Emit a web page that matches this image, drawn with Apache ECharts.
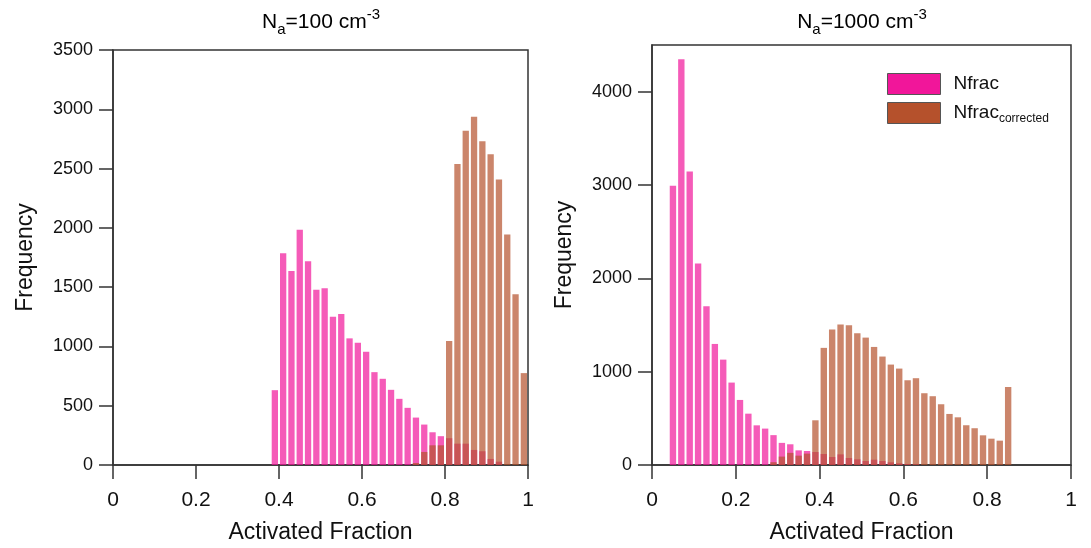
<!DOCTYPE html>
<html>
<head>
<meta charset="utf-8">
<script src="https://cdn.jsdelivr.net/npm/echarts@6/dist/echarts.min.js"></script>
<style>html,body{margin:0;padding:0;background:#fff;}#c{width:1091px;height:548px;}</style>
</head>
<body>
<div id="c"></div>
<script>
// Bin left edges (bin width 0.02)
const binWidth = 0.02;
const binLeft = [0.00,0.02,0.04,0.06,0.08,0.10,0.12,0.14,0.16,0.18,
                 0.20,0.22,0.24,0.26,0.28,0.30,0.32,0.34,0.36,0.38,
                 0.40,0.42,0.44,0.46,0.48,0.50,0.52,0.54,0.56,0.58,
                 0.60,0.62,0.64,0.66,0.68,0.70,0.72,0.74,0.76,0.78,
                 0.80,0.82,0.84,0.86,0.88,0.90,0.92,0.94,0.96,0.98];

// Left panel: Na = 100 cm^-3
const nfrac100 = [0,0,0,0,0,0,0,0,0,0,
                  0,0,0,0,0,0,0,0,0,631,
                  1786,1637,1984,1719,1477,1490,1251,1274,1068,1031,
                  955,783,727,634,558,482,400,341,276,243,
                  226,180,180,127,116,51,28,0,0,0];
const nfracCorr100 = [0,0,0,0,0,0,0,0,0,0,
                      0,0,0,0,0,0,0,0,0,0,
                      0,0,0,0,0,0,0,0,0,0,
                      0,0,0,0,0,0,17,110,166,166,
                      1046,2539,2818,2936,2731,2621,2407,1944,1440,775];

// Right panel: Na = 1000 cm^-3
const nfrac1000 = [0,0,2992,4346,3145,2159,1701,1297,1129,883,
                   697,550,425,390,320,237,222,157,150,139,
                   118,86,114,75,61,43,57,43,29,18,
                   11,7,0,0,0,0,0,0,0,0,
                   0,0,0,0,0,0,0,0,0,0];
const nfracCorr1000 = [0,0,0,0,0,0,0,0,0,0,
                       0,0,0,0,30,90,130,100,122,479,
                       1255,1451,1505,1498,1412,1365,1265,1162,1076,1033,
                       908,930,769,737,651,547,511,426,394,318,
                       282,261,836,0,0,0,0,0,0,0];

const xTicks = [0, 0.2, 0.4, 0.6, 0.8, 1];
const yTicksLeft = [0, 500, 1000, 1500, 2000, 2500, 3000, 3500];
const yTicksRight = [0, 1000, 2000, 3000, 4000];

const PINK = '#F1169A';
const BROWN = '#B5512C';
const FONT = 'Liberation Sans, Arial, Helvetica, sans-serif';
const AX = '#333';

function toPairs(vals) { return binLeft.map((b, i) => [b, vals[i]]); }

function renderBar(params, api) {
  const x0 = api.value(0), y = api.value(1);
  if (!y) return null;
  const p0 = api.coord([x0, y]);
  const p1 = api.coord([x0 + binWidth, 0]);
  return {
    type: 'rect',
    shape: { x: p0[0] + 1, y: p0[1], width: p1[0] - p0[0] - 2, height: p1[1] - p0[1] },
    style: { fill: api.visual('color'), opacity: 0.7 }
  };
}

function xAxisCfg(idx) {
  return {
    type: 'value', gridIndex: idx, min: 0, max: 1, interval: 0.2,
    name: 'Activated Fraction', nameLocation: 'middle', nameGap: 56,
    nameTextStyle: { fontSize: 23, color: '#111', fontFamily: FONT },
    axisLine: { show: true, onZero: false, lineStyle: { color: AX, width: 1.5 } },
    axisTick: { show: true, inside: false, length: 14, lineStyle: { color: AX, width: 1.5 }, customValues: xTicks },
    axisLabel: { fontSize: 21, color: '#111', margin: 25, fontFamily: FONT, customValues: xTicks,
                 formatter: v => (v === 0 ? '0' : v === 1 ? '1' : v.toFixed(1)) },
    splitLine: { show: false }
  };
}

function yAxisCfg(idx, max, interval, ticks) {
  return {
    type: 'value', gridIndex: idx, min: 0, max: max, interval: interval,
    name: 'Frequency', nameLocation: 'middle', nameGap: 76,
    nameTextStyle: { fontSize: 23, color: '#111', fontFamily: FONT },
    axisLine: { show: true, lineStyle: { color: AX, width: 1.5 } },
    axisTick: { show: true, inside: false, length: 14, lineStyle: { color: AX, width: 1.5 }, customValues: ticks },
    axisLabel: { fontSize: 18, color: '#111', margin: 20, fontFamily: FONT, customValues: ticks,
                 formatter: v => String(v) },
    splitLine: { show: false }
  };
}

const titleRich = {
  n: { fontSize: 21, fontFamily: FONT, color: '#111', lineHeight: 30 },
  s: { fontSize: 15, fontFamily: FONT, color: '#111', lineHeight: 14, verticalAlign: 'bottom' },
  p: { fontSize: 15, fontFamily: FONT, color: '#111', lineHeight: 14, verticalAlign: 'top' }
};

const chart = echarts.init(document.getElementById('c'), null, { renderer: 'canvas' });
chart.setOption({
  backgroundColor: '#fff',
  animation: false,
  grid: [
    { left: 113, top: 50, width: 415, height: 415, show: true, borderColor: AX, borderWidth: 1.5, backgroundColor: 'transparent', containLabel: false, outerBoundsMode: 'none' },
    { left: 652, top: 45, width: 419, height: 420, show: true, borderColor: AX, borderWidth: 1.5, backgroundColor: 'transparent', containLabel: false, outerBoundsMode: 'none' }
  ],
  xAxis: [xAxisCfg(0), xAxisCfg(1)],
  yAxis: [yAxisCfg(0, 3500, 500, yTicksLeft), yAxisCfg(1, 4500, 1000, yTicksRight)],
  graphic: [
    { type: 'text', x: 321, y: 22, style: { text: '{n|N}{s|a}{n|=100 cm}{p|-3}', rich: titleRich, align: 'center', verticalAlign: 'middle' } },
    { type: 'text', x: 862, y: 22, style: { text: '{n|N}{s|a}{n|=1000 cm}{p|-3}', rich: titleRich, align: 'center', verticalAlign: 'middle' } }
  ],
  legend: {
    orient: 'vertical', left: 887, top: 73, padding: 0,
    itemWidth: 53, itemHeight: 21, itemGap: 7, icon: 'rect',
    data: [
      { name: 'Nfrac', itemStyle: { color: PINK, opacity: 1, borderColor: '#555', borderWidth: 1 } },
      { name: 'Nfrac_corrected', itemStyle: { color: BROWN, opacity: 1, borderColor: '#555', borderWidth: 1 } }
    ],
    formatter: name => name === 'Nfrac' ? '{m|Nfrac}' : '{m|Nfrac}{s|corrected}',
    textStyle: {
      padding: [0, 0, 0, 8],
      rich: {
        m: { fontSize: 19, fontFamily: FONT, color: '#111', lineHeight: 24 },
        s: { fontSize: 12, fontFamily: FONT, color: '#111', lineHeight: 12, verticalAlign: 'bottom' }
      }
    }
  },
  series: [
    { type: 'custom', name: 'Nfrac', xAxisIndex: 0, yAxisIndex: 0, itemStyle: { color: PINK }, renderItem: renderBar, data: toPairs(nfrac100), encode: { x: 0, y: 1 } },
    { type: 'custom', name: 'Nfrac_corrected', xAxisIndex: 0, yAxisIndex: 0, itemStyle: { color: BROWN }, renderItem: renderBar, data: toPairs(nfracCorr100), encode: { x: 0, y: 1 } },
    { type: 'custom', name: 'Nfrac', xAxisIndex: 1, yAxisIndex: 1, itemStyle: { color: PINK }, renderItem: renderBar, data: toPairs(nfrac1000), encode: { x: 0, y: 1 } },
    { type: 'custom', name: 'Nfrac_corrected', xAxisIndex: 1, yAxisIndex: 1, itemStyle: { color: BROWN }, renderItem: renderBar, data: toPairs(nfracCorr1000), encode: { x: 0, y: 1 } }
  ]
});
</script>
</body>
</html>
